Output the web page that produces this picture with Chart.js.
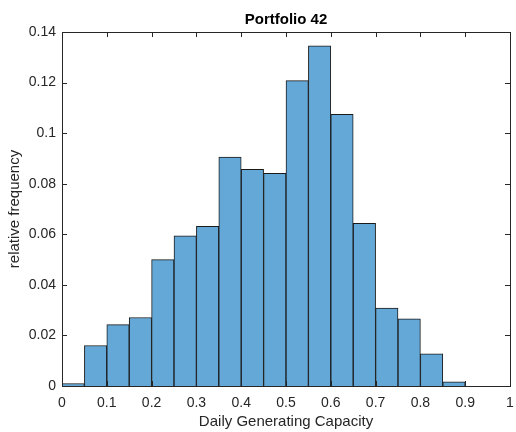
<!DOCTYPE html>
<html>
<head>
<meta charset="utf-8">
<script src="https://cdn.jsdelivr.net/npm/chart.js@4"></script>
<style>
  html, body { margin: 0; padding: 0; background: #fff; }
  #wrap { width: 516px; height: 432px; }
</style>
</head>
<body>
<div id="wrap"><canvas id="hist"></canvas></div>
<script>
// histogram bins (left edges, width 0.05) and relative frequencies
const binWidth = 0.05;
const binStarts = [0, 0.05, 0.1, 0.15, 0.2, 0.25, 0.3, 0.35, 0.4, 0.45, 0.5, 0.55, 0.6, 0.65, 0.7, 0.75, 0.8, 0.85];
const relFreq = [0.001, 0.016, 0.0243, 0.0271, 0.050, 0.0594, 0.0631, 0.0905, 0.0857, 0.0841, 0.1208, 0.1345, 0.1074, 0.0643, 0.0308, 0.0266, 0.0127, 0.0016];
const xTicks = [0, 0.1, 0.2, 0.3, 0.4, 0.5, 0.6, 0.7, 0.8, 0.9, 1];
const yTicks = [0, 0.02, 0.04, 0.06, 0.08, 0.1, 0.12, 0.14];

const titleText = "Portfolio 42";
const axisColor = "#262626";
const fontFamily = "Arial, 'Liberation Sans', Helvetica, sans-serif";

// short tick labels: 0, 0.1, 0.02 ...
const fmt = (v) => String(Number(v.toFixed(2)));

// axes box with inward ticks on all four sides, plus the title
const boxPlugin = {
    id: "boxPlugin",
    afterDraw(chart) {
        const { ctx, chartArea: a, scales } = chart;
        const len = 5;
        ctx.save();
        ctx.strokeStyle = axisColor;
        ctx.lineWidth = 1;
        ctx.strokeRect(Math.round(a.left) + 0.5, Math.round(a.top) + 0.5,
            Math.round(a.right - a.left), Math.round(a.bottom - a.top));
        ctx.beginPath();
        xTicks.forEach((v) => {
            const x = Math.round(scales.x.getPixelForValue(v)) + 0.5;
            ctx.moveTo(x, a.bottom); ctx.lineTo(x, a.bottom - len);
            ctx.moveTo(x, a.top); ctx.lineTo(x, a.top + len);
        });
        yTicks.forEach((v) => {
            const y = Math.round(scales.y.getPixelForValue(v)) + 0.5;
            ctx.moveTo(a.left, y); ctx.lineTo(a.left + len, y);
            ctx.moveTo(a.right, y); ctx.lineTo(a.right - len, y);
        });
        ctx.stroke();

        ctx.fillStyle = "#000";
        ctx.font = "bold 15px " + fontFamily;
        ctx.textAlign = "center";
        ctx.textBaseline = "middle";
        ctx.fillText(titleText, (a.left + a.right) / 2, 20);
        ctx.restore();
    }
};

new Chart(document.getElementById("hist"), {
    type: "bar",
    data: {
        datasets: [{
            data: binStarts.map((s, i) => ({ x: s + binWidth / 2, y: relFreq[i] })),
            backgroundColor: "rgb(99, 168, 215)",
            borderColor: "#1a1a1a",
            borderWidth: 1,
            barPercentage: 1,
            categoryPercentage: 1,
        }]
    },
    options: {
        responsive: true,
        maintainAspectRatio: false,
        animation: false,
        layout: { padding: { top: 32, right: 6, left: 0, bottom: 0 } },
        plugins: {
            legend: { display: false },
            tooltip: { enabled: false },
        },
        scales: {
            x: {
                type: "linear",
                min: 0,
                max: 1,
                offset: false,
                afterBuildTicks: (scale) => { scale.ticks = xTicks.map((v) => ({ value: v })); },
                afterFit: (scale) => {
                    scale.height = 46;
                    scale.paddingLeft = 0;
                    scale.paddingRight = 0;
                },
                grid: { display: false, drawTicks: false },
                border: { display: false },
                ticks: {
                    color: axisColor,
                    padding: 9,
                    maxRotation: 0,
                    callback: fmt,
                    font: { family: fontFamily, size: 14 },
                },
                title: {
                    display: true,
                    text: "Daily Generating Capacity",
                    color: axisColor,
                    padding: { top: 0, bottom: 1 },
                    font: { family: fontFamily, size: 15 },
                },
            },
            y: {
                min: 0,
                max: 0.14,
                afterBuildTicks: (scale) => { scale.ticks = yTicks.map((v) => ({ value: v })); },
                afterFit: (scale) => {
                    scale.width = 62;
                    scale.paddingTop = 0;
                    scale.paddingBottom = 0;
                },
                grid: { display: false, drawTicks: false },
                border: { display: false },
                ticks: {
                    color: axisColor,
                    padding: 6,
                    callback: fmt,
                    font: { family: fontFamily, size: 14 },
                },
                title: {
                    display: true,
                    text: "relative frequency",
                    color: axisColor,
                    padding: { top: 6, bottom: 0 },
                    font: { family: fontFamily, size: 15 },
                },
            },
        },
    },
    plugins: [boxPlugin],
});
</script>
</body>
</html>
